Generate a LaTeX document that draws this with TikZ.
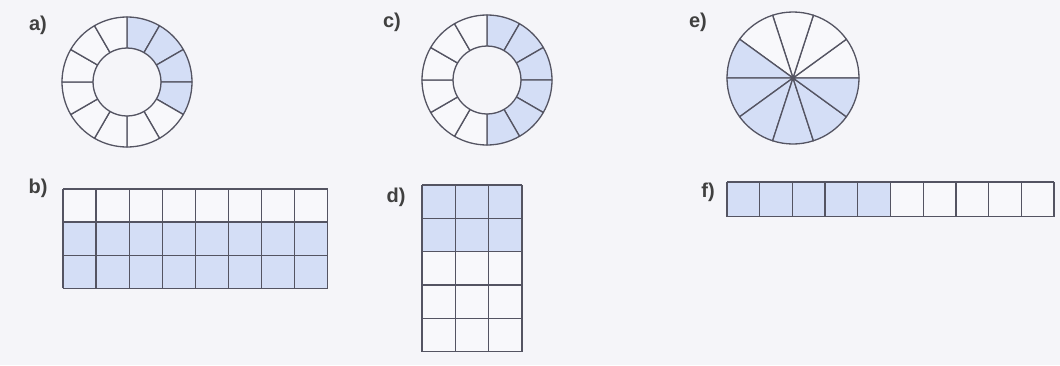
\documentclass[tikz,border=0pt]{standalone}
\usepackage{fontspec}
\setmainfont{Liberation Sans}
\usetikzlibrary{positioning}

\definecolor{tint}{RGB}{212,222,246}
\definecolor{edge}{RGB}{84,84,98}
\definecolor{paper}{RGB}{245,245,249}
\definecolor{blank}{RGB}{248,248,251}

\begin{document}
\begin{tikzpicture}[
    x=1pt, y=1pt,
    part/.style={font=\bfseries\fontsize{20}{20}\selectfont, text=black!75, inner sep=0pt},
    cell/.style={draw=edge, line width=1.3pt, line join=round},
]

\fill[paper] (0,0) rectangle (1060,-365);
\useasboundingbox (0,0) rectangle (1060,-365);

% labels
\node[part] (la) at (38,-25) {a)};
\node[part] (lb) at (38,-188) {b)};
\node[part] (lc) at (392,-22) {c)};
\node[part] (ld) at (396,-197) {d)};
\node[part] (le) at (698,-22) {e)};
\node[part] (lf) at (708,-192) {f)};

\def\Ro{65}
\def\Ri{34}

% a) ring, 4 of 12
\begin{scope}[shift={(127,-82)}]
\foreach \i in {0,...,11}{
    \ifnum\i<4 \def\tone{tint}\else\def\tone{blank}\fi
    \draw[cell, fill=\tone] ({90-30*\i}:\Ro pt)
        arc[start angle={90-30*\i}, delta angle=-30, radius=\Ro pt]
        -- ({60-30*\i}:\Ri pt)
        arc[start angle={60-30*\i}, delta angle=30, radius=\Ri pt] -- cycle;
}
\end{scope}

% c) ring, 6 of 12
\begin{scope}[shift={(487,-80)}]
\foreach \i in {0,...,11}{
    \ifnum\i<6 \def\tone{tint}\else\def\tone{blank}\fi
    \draw[cell, fill=\tone] ({90-30*\i}:\Ro pt)
        arc[start angle={90-30*\i}, delta angle=-30, radius=\Ro pt]
        -- ({60-30*\i}:\Ri pt)
        arc[start angle={60-30*\i}, delta angle=30, radius=\Ri pt] -- cycle;
}
\end{scope}

% e) pie, 6 of 10
\begin{scope}[shift={(793,-78)}]
\foreach \i in {0,...,9}{
    \ifnum\i<4 \def\tone{blank}\else\def\tone{tint}\fi
    \draw[cell, fill=\tone] (0,0) -- ({36*\i}:66pt)
        arc[start angle={36*\i}, delta angle=36, radius=66pt] -- cycle;
}
\fill[edge] (0,0) circle (2pt);
\end{scope}

% b) grid 8 x 3, lower two rows
\begin{scope}[shift={(63,-288.3)}, x=33.1pt, y=33.1pt]
\fill[blank] (0,2) rectangle (8,3);
\fill[tint] (0,0) rectangle (8,2);
\draw[cell] (0,0) grid[step=1] (8,3);
\end{scope}

% d) grid 3 x 5, upper two rows
\begin{scope}[shift={(422,-351.5)}, x=33.3pt, y=33.3pt]
\fill[blank] (0,0) rectangle (3,3);
\fill[tint] (0,3) rectangle (3,5);
\draw[cell] (0,0) grid[step=1] (3,5);
\end{scope}

% f) strip 10 x 1, first five
\begin{scope}[shift={(727,-216.5)}, x=32.7pt, y=34.5pt]
\fill[tint] (0,0) rectangle (5,1);
\fill[blank] (5,0) rectangle (10,1);
\draw[cell] (0,0) grid[step=1] (10,1);
\end{scope}

\end{tikzpicture}
\end{document}
